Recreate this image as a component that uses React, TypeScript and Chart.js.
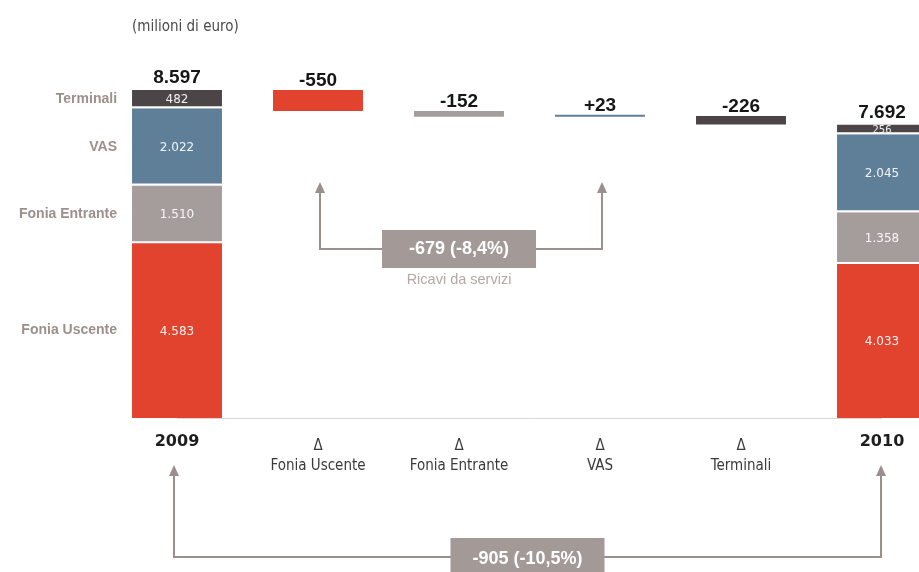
import React, { useEffect, useRef } from 'react';
import { Chart, registerables } from 'chart.js';

Chart.register(...registerables);

// Revenue breakdown, 2009 -> 2010 (milioni di euro)
const categories: (string | string[])[] = [
  '2009',
  ['Δ', 'Fonia Uscente'],
  ['Δ', 'Fonia Entrante'],
  ['Δ', 'VAS'],
  ['Δ', 'Terminali'],
  '2010',
];
const segmentNames = ['Fonia Uscente', 'Fonia Entrante', 'VAS', 'Terminali'];
const revenue2009 = [4583, 1510, 2022, 482];
const revenue2010 = [4033, 1358, 2045, 256];
const segmentColors = ['#e1432f', '#a59d9c', '#5f7f99', '#4c4547'];
// the first three segments make up "Ricavi da servizi"
const serviceSegmentCount = 3;

const sum = (a: number[]) => a.reduce((s, v) => s + v, 0);
const cumulative = (a: number[]) => {
  let acc = 0;
  return a.map((v) => {
    const start = acc;
    acc += v;
    return start;
  });
};

const total2009 = sum(revenue2009);
const total2010 = sum(revenue2010);
const deltas = revenue2010.map((v, i) => v - revenue2009[i]);
const starts2009 = cumulative(revenue2009);
const starts2010 = cumulative(revenue2010);

let running = total2009;
const deltaRanges = deltas.map((d) => {
  const from = running;
  running += d;
  return [Math.min(from, running), Math.max(from, running)];
});

const fmt = (n: number) => {
  const s = Math.abs(Math.round(n))
    .toString()
    .replace(/\B(?=(\d{3})+(?!\d))/g, '.');
  return (n < 0 ? '-' : '') + s;
};
const fmtSigned = (n: number) => (n > 0 ? '+' : '') + fmt(n);
const fmtPct = (p: number) =>
  (p < 0 ? '-' : '+') + Math.abs(p).toFixed(1).replace('.', ',') + '%';

const LINE_COLOR = '#9b8f8d';
const BOX_COLOR = '#a39a98';
const SANS = '"Liberation Sans", Arial, sans-serif';
const NARROW = '"DejaVu Sans Condensed", sans-serif';

function arrowUp(ctx: CanvasRenderingContext2D, x: number, tipY: number, fromY: number) {
  ctx.strokeStyle = LINE_COLOR;
  ctx.lineWidth = 2;
  ctx.beginPath();
  ctx.moveTo(x, fromY);
  ctx.lineTo(x, tipY + 8);
  ctx.stroke();
  ctx.fillStyle = LINE_COLOR;
  ctx.beginPath();
  ctx.moveTo(x, tipY);
  ctx.lineTo(x - 5, tipY + 11);
  ctx.lineTo(x + 5, tipY + 11);
  ctx.closePath();
  ctx.fill();
}

function hLine(ctx: CanvasRenderingContext2D, x1: number, x2: number, y: number) {
  ctx.strokeStyle = LINE_COLOR;
  ctx.lineWidth = 2;
  ctx.beginPath();
  ctx.moveTo(x1, y);
  ctx.lineTo(x2, y);
  ctx.stroke();
}

function box(ctx: CanvasRenderingContext2D, cx: number, top: number, w: number, h: number, text: string, textY: number) {
  ctx.fillStyle = BOX_COLOR;
  ctx.fillRect(cx - w / 2, top, w, h);
  ctx.fillStyle = '#ffffff';
  ctx.font = `bold 18px ${SANS}`;
  ctx.textAlign = 'center';
  ctx.textBaseline = 'middle';
  ctx.fillText(text, cx, textY);
}

const annotations = {
  id: 'waterfallAnnotations',
  beforeDatasetsDraw(chart: any) {
    const ctx: CanvasRenderingContext2D = chart.ctx;
    const y0 = Math.round(chart.scales.y.getPixelForValue(0)) + 0.5;
    const first = chart.getDatasetMeta(0).data[0];
    const last = chart.getDatasetMeta(0).data[5];
    ctx.save();
    ctx.strokeStyle = '#dcd7d6';
    ctx.lineWidth = 1;
    ctx.beginPath();
    ctx.moveTo(first.x, y0);
    ctx.lineTo(last.x, y0);
    ctx.stroke();
    ctx.restore();
  },
  afterDraw(chart: any) {
    const ctx: CanvasRenderingContext2D = chart.ctx;
    const xs = chart.scales.x;
    const metas = segmentNames.map((_, s) => chart.getDatasetMeta(s));
    ctx.save();

    // unit note
    const bar0 = metas[0].data[0];
    ctx.fillStyle = '#4a4a4a';
    ctx.font = `15px ${NARROW}`;
    ctx.textAlign = 'left';
    ctx.textBaseline = 'middle';
    ctx.fillText('(milioni di euro)', bar0.x - bar0.width / 2, 27);

    // segment names beside the 2009 column, values inside both totals
    segmentNames.forEach((name, s) => {
      const el = metas[s].data[0];
      const cy = (el.y + el.base) / 2;
      ctx.fillStyle = '#9d8f8c';
      ctx.font = `bold 14px ${SANS}`;
      ctx.textAlign = 'right';
      ctx.textBaseline = 'middle';
      ctx.fillText(name, el.x - el.width / 2 - 15, cy);

      [0, 5].forEach((i) => {
        const e = metas[s].data[i];
        const v = i === 0 ? revenue2009[s] : revenue2010[s];
        ctx.fillStyle = 'rgba(255,255,255,0.92)';
        ctx.font = `${v < 400 ? 10 : 12}px "DejaVu Sans", sans-serif`;
        ctx.textAlign = 'center';
        ctx.textBaseline = 'middle';
        ctx.fillText(fmt(v), e.x, (e.y + e.base) / 2 + 1);
      });
    });

    // totals above the stacked columns
    ctx.fillStyle = '#161616';
    ctx.font = `bold 19px ${SANS}`;
    ctx.textAlign = 'center';
    ctx.textBaseline = 'alphabetic';
    [0, 5].forEach((i) => {
      const top = Math.min(...metas.map((m: any) => Math.min(m.data[i].y, m.data[i].base)));
      ctx.fillText(fmt(i === 0 ? total2009 : total2010), metas[0].data[i].x, top - 7);
    });

    // change labels above the floating bars
    deltas.forEach((d, s) => {
      const e = metas[s].data[s + 1];
      const top = Math.min(e.y, e.base);
      ctx.fillText(fmtSigned(d), e.x, top - 4);
    });

    // services change: bracket from Δ Fonia Uscente to Δ VAS
    const serviceDelta = sum(deltas.slice(0, serviceSegmentCount));
    const service2009 = sum(revenue2009.slice(0, serviceSegmentCount));
    const sx1 = xs.getPixelForValue(1) + 2;
    const sx2 = xs.getPixelForValue(serviceSegmentCount) + 2;
    const scx = xs.getPixelForValue(2);
    const sLineY = 249;
    arrowUp(ctx, sx1, 182, sLineY + 1);
    arrowUp(ctx, sx2, 182, sLineY + 1);
    hLine(ctx, sx1 - 1, sx2 + 1, sLineY);
    box(ctx, scx, 230, 154, 38, `${fmt(serviceDelta)} (${fmtPct((serviceDelta / service2009) * 100)})`, 249);
    ctx.fillStyle = '#b3a9a7';
    ctx.font = `14.5px ${SANS}`;
    ctx.textAlign = 'center';
    ctx.textBaseline = 'middle';
    ctx.fillText('Ricavi da servizi', scx, 280);

    // total change: bracket from 2009 to 2010
    const totalDelta = total2010 - total2009;
    const tx1 = xs.getPixelForValue(0) - 3;
    const tx2 = xs.getPixelForValue(5) - 1;
    const tLineY = 557;
    arrowUp(ctx, tx1, 465, tLineY + 1);
    arrowUp(ctx, tx2, 465, tLineY + 1);
    hLine(ctx, tx1 - 1, tx2 + 1, tLineY);
    box(ctx, (tx1 + tx2) / 2, 538, 154, 40, `${fmt(totalDelta)} (${fmtPct((totalDelta / total2009) * 100)})`, 559);

    ctx.restore();
  },
};

export default function App() {
  const canvasRef = useRef<HTMLCanvasElement | null>(null);

  useEffect(() => {
    const canvas = canvasRef.current;
    if (!canvas) return;

    const datasets = segmentNames.map((name, s) => ({
      label: name,
      data: categories.map((_, i) => {
        if (i === 0) return [starts2009[s], starts2009[s] + revenue2009[s]];
        if (i === categories.length - 1) return [starts2010[s], starts2010[s] + revenue2010[s]];
        return i - 1 === s ? deltaRanges[s] : null;
      }),
      backgroundColor: segmentColors[s],
      borderColor: '#ffffff',
      borderWidth: (c: any) =>
        (c.dataIndex === 0 || c.dataIndex === categories.length - 1) && s > 0
          ? { top: 0, right: 0, bottom: 2, left: 0 }
          : 0,
      borderSkipped: false,
      grouped: false,
      barPercentage: 0.638,
      categoryPercentage: 1,
      minBarLength: 2,
    }));

    const chart = new Chart(canvas, {
      type: 'bar',
      data: { labels: categories as any, datasets: datasets as any },
      options: {
        animation: false,
        responsive: false,
        devicePixelRatio: 1,
        layout: { padding: { left: 106.5, right: 0.5, top: 74.6, bottom: 0 } },
        plugins: {
          legend: { display: false },
          tooltip: { enabled: false },
        },
        scales: {
          x: {
            offset: true,
            grid: { display: false, drawTicks: false },
            border: { display: false },
            afterFit: (scale: any) => {
              scale.height = 154;
            },
            ticks: {
              padding: 18,
              autoSkip: false,
              maxRotation: 0,
              color: (c: any) => (c.index === 0 || c.index === 5 ? '#1e1e1e' : '#3a3a3a'),
              font: (c: any) =>
                c.index === 0 || c.index === 5
                  ? { family: '"DejaVu Sans", sans-serif', weight: 'bold', size: 16, lineHeight: 0.75 }
                  : { family: NARROW, weight: 'normal', size: 15, lineHeight: 1.33 },
            },
          },
          y: {
            display: false,
            min: 0,
            max: 9000,
          },
        },
      },
      plugins: [annotations],
    });

    return () => chart.destroy();
  }, []);

  return (
    <div
      style={{
        position: 'fixed',
        left: 0,
        top: 0,
        width: 919,
        height: 572,
        overflow: 'hidden',
        background: '#ffffff',
      }}
    >
      <canvas ref={canvasRef} width={953} height={572} style={{ display: 'block' }} />
    </div>
  );
}
